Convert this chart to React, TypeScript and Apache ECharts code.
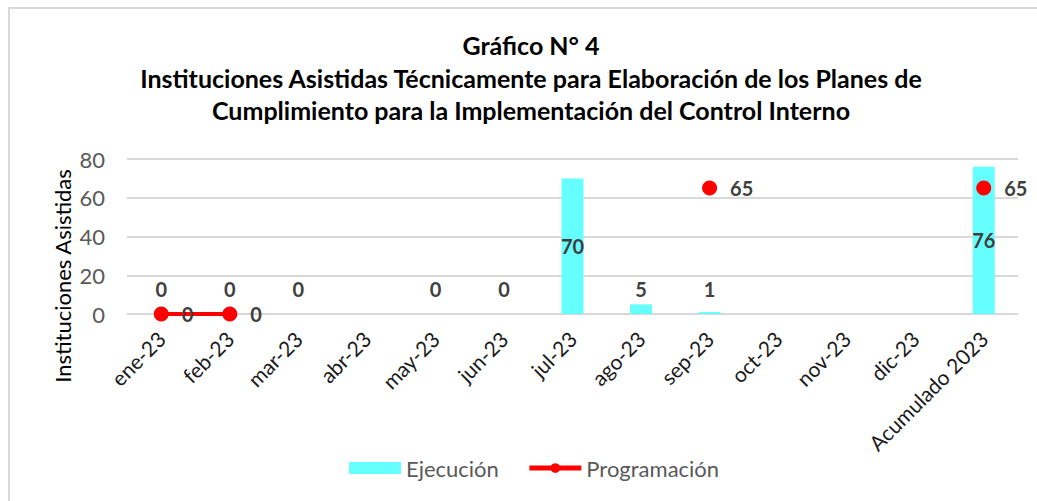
import React, { useEffect, useRef } from "react";
import * as echarts from "echarts";

const categories = ["ene-23", "feb-23", "mar-23", "abr-23", "may-23", "jun-23", "jul-23", "ago-23", "sep-23", "oct-23", "nov-23", "dic-23", "Acumulado 2023"];
const ejecucion: (number | null)[] = [0, 0, 0, null, 0, 0, 70, 5, 1, null, null, null, 76];
const programacion: (number | null)[] = [0, 0, null, null, null, null, null, null, 65, null, null, null, 65];
const yTicks = { min: 0, max: 80, interval: 20 };
const yAxisTitle = "Instituciones Asistidas";
const titleText = "Gráfico N° 4\nInstituciones Asistidas Técnicamente para Elaboración de los Planes de\nCumplimiento para la Implementación del Control Interno";

export default function App() {
  const ref = useRef<HTMLDivElement>(null);
  useEffect(() => {
    if (!ref.current) return;
    const chart = echarts.init(ref.current, null, { renderer: "svg" });
    const font = "Lato, 'Open Sans', sans-serif";
    chart.setOption({
      animation: false,
      textStyle: { fontFamily: font },
      graphic: [
        {
          type: "rect",
          shape: { x: 9, y: 8, width: 1200, height: 700 },
          style: { fill: "none", stroke: "#d9d9d9", lineWidth: 2 },
          silent: true,
        },
        {
          type: "text",
          x: 531,
          y: 29,
          style: {
            text: titleText,
            fontFamily: font,
            fontSize: 25,
            fontWeight: "bold",
            fill: "#000",
            textAlign: "center",
            lineHeight: 32.5,
          },
        },
        {
          type: "text",
          x: 62,
          y: 276,
          rotation: Math.PI / 2,
          style: {
            text: yAxisTitle,
            fontFamily: font,
            fontSize: 22,
            fill: "#000",
            textAlign: "center",
            textVerticalAlign: "middle",
          },
        },
      ],
      grid: { left: 127, right: 19, top: 159, bottom: 187, containLabel: false },
      legend: {
        left: 344,
        top: 452,
        itemWidth: 52,
        itemHeight: 12,
        itemGap: 28,
        textStyle: { color: "#595959", fontSize: 22, fontFamily: font },
        data: [
          { name: "Ejecución", icon: "rect" },
          { name: "Programación", lineStyle: { width: 5, color: "#FF0000" } },
        ],
      },
      xAxis: {
        type: "category",
        data: categories,
        axisLine: { show: false },
        axisTick: { show: false },
        axisLabel: { rotate: 45, color: "#1a1a1a", fontSize: 21, margin: 21, interval: 0, fontFamily: font },
      },
      yAxis: {
        type: "value",
        min: yTicks.min,
        max: yTicks.max,
        interval: yTicks.interval,
        axisLabel: { color: "#595959", fontSize: 22, margin: 22, fontFamily: font },
        splitLine: { lineStyle: { color: "#d9d9d9", width: 2 } },
        axisLine: { show: false },
        axisTick: { show: false },
      },
      series: [
        {
          name: "Ejecución",
          type: "bar",
          barWidth: 22,
          itemStyle: { color: "#66FFFF" },
          data: ejecucion.map((v) => ({
            value: v,
            label: v !== null && v > 20 ? { position: "inside", offset: [0, 0] } : {},
          })),
          label: {
            show: true,
            position: "insideBottom",
            offset: [0, -10],
            color: "#404040",
            fontSize: 20,
            fontWeight: "bold",
            fontFamily: font,
          },
        },
        {
          name: "Programación",
          type: "line",
          data: programacion,
          connectNulls: false,
          symbol: "circle",
          symbolSize: 15,
          lineStyle: { color: "#FF0000", width: 4 },
          itemStyle: { color: "#FF0000" },
          label: {
            show: true,
            position: "right",
            distance: 13,
            color: "#404040",
            fontSize: 20,
            fontWeight: "bold",
            fontFamily: font,
          },
          z: 5,
        },
      ],
    });
    return () => chart.dispose();
  }, []);
  return <div ref={ref} style={{ position: "absolute", left: 0, top: 0, width: 1037, height: 501, background: "#fff" }} />;
}
